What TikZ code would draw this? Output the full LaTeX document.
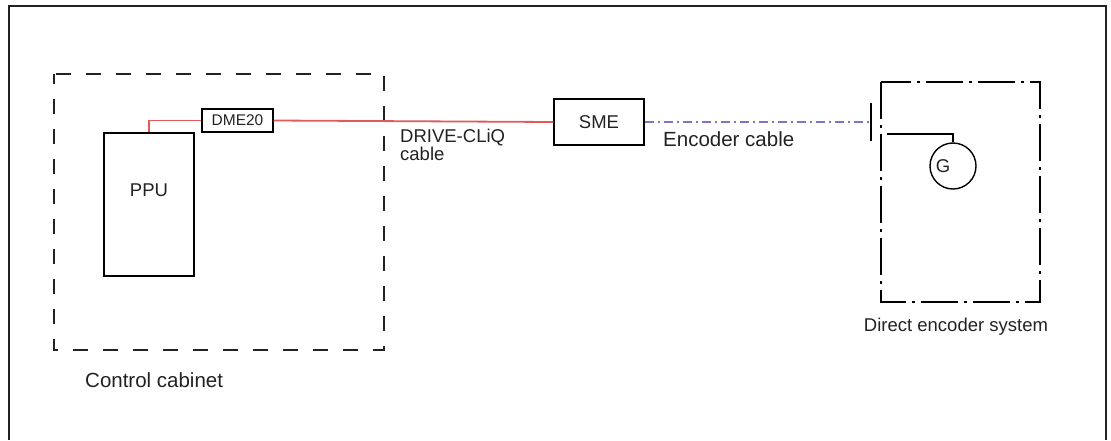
\documentclass[tikz,border=0pt]{standalone}
\usepackage{fontspec}
\setmainfont{Liberation Sans}
\usetikzlibrary{positioning}
\definecolor{Cliq}{HTML}{E05A5A}
\definecolor{Enc}{HTML}{7B76C2}
\definecolor{Ink}{HTML}{222222}

\begin{document}
\begin{tikzpicture}[x=1pt,y=-1pt,every node/.style={font=\fontsize{18.5}{15}\selectfont,text=Ink}]
\tikzstyle{unit}=[draw=black,line width=1.4pt,inner sep=0pt]
\tikzstyle{caption}=[inner sep=0pt,anchor=base west,font=\fontsize{20.5}{15}\selectfont]
\useasboundingbox (0,0) rectangle (1111,440);
\draw[line width=1.3pt,Ink] (9,440) -- (9,6) -- (1106,6) -- (1106,440);
% enclosures
\draw[Ink,line width=2pt,dash pattern=on 15pt off 15pt,dash phase=5pt] (54,74) rectangle (384,350);
\draw[black,line width=1.4pt,dash pattern=on 37pt off 6pt on 3pt off 6pt] (881,82) rectangle (1040,302);
% units
\node[unit,minimum width=90pt,minimum height=143pt,label={[anchor=center,yshift=-58pt]north:PPU}] (ppu) at (149,204.5) {};
\node[unit,minimum width=71pt,minimum height=23pt,font=\fontsize{15.5}{15}\selectfont] (dme) at (237.5,120.5) {DME20};
\node[unit,minimum width=90pt,minimum height=46pt] (sme) at (599,122) {SME};
\node[unit,circle,minimum size=46pt,label={[anchor=center,xshift=-10pt]center:G}] (g) at (953,166) {};
\coordinate (bar) at (871,122);
\coordinate (barA) at (871,103);
\coordinate (barB) at (871,141);
\coordinate (gin) at (887,134);
% cables
\draw[Cliq,line width=1.8pt] (ppu.north) |- (dme.west);
\draw[Cliq,line width=1.8pt] (dme.east) -- (sme.west);
\draw[Enc,line width=1.8pt,dash pattern=on 9pt off 4pt on 2pt off 4pt] (sme.east) -- (bar);
\draw[black,line width=1.4pt] (barA) -- (barB);
\draw[black,line width=1.4pt] (gin) -| (g.north);
% labels
\node[inner sep=0pt,anchor=north west,align=left] (cliq) at (400,129) {DRIVE-CLiQ\\cable};
\node[caption] (enccable) at (663,146) {Encoder cable};
\node[inner sep=0pt,anchor=base] (direct) at (956,331) {Direct encoder system};
\node[caption] (cabinet) at (85,387) {Control cabinet};
\end{tikzpicture}
\end{document}
